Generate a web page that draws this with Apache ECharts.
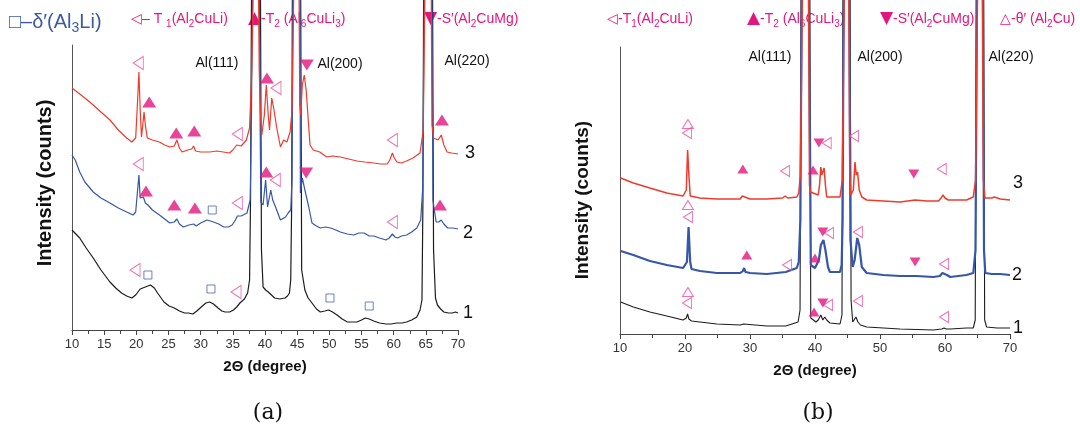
<!DOCTYPE html>
<html><head><meta charset="utf-8">
<script src="https://cdn.jsdelivr.net/npm/echarts@6/dist/echarts.min.js"></script>
<style>html,body{margin:0;padding:0;background:#fff}#c{width:1080px;height:440px}</style>
</head><body><div id="c"></div>
<script>
// ---------- DATA (2θ in degree, intensity in arbitrary counts) ----------
// Panel (a)
const aCurve3 = [[10.0,242],[11.0,237],[12.0,232],[13.3,225],[14.5,218],[15.9,210],[17.2,200],[18.5,192],[19.3,188],[19.9,192],[20.2,230],[20.4,258],[20.6,220],[20.8,193],[21.0,205],[21.2,218],[21.4,205],[21.7,192],[22.5,190],[23.6,188],[24.4,185],[25.2,183],[25.9,184],[26.3,190],[26.7,182],[27.1,178],[28.0,180],[28.6,181],[28.9,184],[29.2,179],[30.0,178],[31.4,178],[32.5,179],[33.5,178],[34.5,177],[35.0,180],[35.6,185],[36.3,184],[37.1,190],[37.6,202],[37.95,260],[38.15,330],[38.6,1500],[39.0,330],[39.1,260],[39.3,215],[39.5,195],[39.9,215],[40.2,245],[40.5,215],[40.7,200],[41.05,232],[41.4,220],[41.8,203],[42.4,183],[42.9,190],[43.4,188],[43.9,198],[44.2,220],[44.45,330],[44.9,1500],[45.3,330],[45.4,225],[45.55,215],[45.8,245],[46.1,255],[46.4,240],[46.8,203],[47.0,185],[47.5,180],[48.5,178],[49.6,173],[50.5,174],[51.7,173],[53.0,171],[54.3,169],[55.5,168],[56.9,167],[58.0,166],[59.0,166],[59.4,170],[59.8,177],[60.1,172],[60.5,168],[61.2,167],[62.0,169],[63.0,172],[64.1,177],[64.6,200],[64.85,330],[65.35,1500],[65.85,330],[65.95,205],[66.2,192],[66.5,190],[66.9,190],[67.4,195],[67.8,185],[68.3,178],[69.0,177],[70.0,176]];
const aCurve2 = [[10.0,175],[10.5,170],[11.2,158],[12.0,148],[13.3,138],[14.5,132],[15.9,127],[17.2,122],[18.5,118],[19.5,115],[19.9,118],[20.2,140],[20.4,155],[20.6,132],[20.9,132],[21.1,133],[21.4,127],[21.8,125],[22.5,120],[23.6,115],[24.4,111],[25.2,107],[25.9,108],[26.3,111],[26.7,106],[27.3,103],[28.2,105],[28.9,106],[29.3,104],[30.0,107],[31.0,110],[32.0,108],[32.8,106],[33.6,103],[34.3,103],[34.9,105],[35.4,110],[35.7,114],[36.3,114],[37.2,117],[37.7,130],[37.9,220],[38.05,330],[38.6,1500],[39.15,330],[39.25,200],[39.35,128],[39.7,125],[40.1,150],[40.4,123],[40.6,130],[40.9,140],[41.2,130],[41.7,122],[42.4,110],[43.2,113],[43.6,117],[44.0,120],[44.2,150],[44.35,330],[44.9,1500],[45.45,330],[45.5,137],[45.8,152],[46.2,140],[46.8,123],[47.3,107],[48.0,104],[48.6,102],[49.4,103],[50.2,102],[51.0,100],[51.7,98],[52.8,96],[53.8,95],[54.6,97],[55.4,97],[56.2,94],[56.9,94],[57.8,92],[58.8,90],[59.3,92],[59.8,96],[60.2,93],[60.6,92],[61.2,94],[62.0,95],[62.8,98],[63.6,102],[64.2,110],[64.5,140],[64.75,330],[65.35,1500],[65.95,330],[66.1,130],[66.6,108],[67.0,108],[67.4,110],[67.8,106],[68.4,102],[69.2,102],[70.0,101]];
const aCurve1 = [[10.0,100],[10.6,96],[11.2,92],[12.2,82],[13.3,72],[14.5,60],[15.9,48],[16.8,42],[17.7,37],[18.5,34],[19.3,32],[19.9,35],[20.6,41],[21.4,43],[22.2,45],[22.8,42],[23.3,37],[24.3,28],[25.1,24],[25.9,22],[26.7,19],[27.5,17],[28.1,17],[28.8,16],[29.4,19],[30.1,23],[30.8,27],[31.4,28],[32.0,26],[32.7,22],[33.3,19],[33.8,18],[34.5,18],[35.1,20],[35.6,23],[36.1,27],[36.8,31],[37.3,37],[37.6,50],[37.75,130],[37.9,330],[38.6,1500],[39.3,330],[39.45,80],[39.7,43],[40.1,40],[40.5,38],[41.0,35],[41.5,32],[42.3,31],[43.1,32],[43.5,34],[43.8,37],[44.0,50],[44.15,130],[44.25,330],[44.9,1500],[45.55,330],[45.7,60],[46.2,40],[46.7,32],[47.3,27],[48.0,21],[48.6,18],[49.3,19],[49.9,20],[50.5,18],[51.2,15],[52.0,11],[52.8,8],[53.6,8],[54.3,8],[55.0,10],[55.6,12],[56.2,11],[56.9,9],[57.8,7],[58.8,6],[59.6,6],[60.5,7],[61.3,7],[62.0,8],[62.8,10],[63.6,13],[64.1,20],[64.4,30],[64.55,130],[64.65,330],[65.35,1500],[66.05,330],[66.2,80],[66.5,32],[66.8,25],[67.3,21],[67.8,18],[68.5,17],[69.1,17],[69.6,18],[70.0,17]];
// phase markers, panel (a)
const aT1 = [[20.3,267],[35.7,196],[41.7,242],[59.8,190],[20.3,166],[35.7,127],[41.6,150],[59.8,108],[19.8,60],[35.5,38]];
const aT2 = [[22.0,228],[26.2,197],[29.0,199],[40.3,252],[67.5,210],[21.5,139],[25.9,125],[29.1,122],[40.2,158],[67.2,125]];
const aS = [[46.5,265],[46.4,157]];
const aDelta = [[31.8,120],[21.8,55],[31.6,41],[50.1,32],[56.2,24]];

// Panel (b)
const bCurve3 = [[10.1,156],[12.05,151],[14.6,146],[17.2,141],[19.7,138],[20.2,144],[20.4,184],[20.6,159],[20.8,138],[21.0,137],[22.3,136],[24.9,135],[27.0,135],[28.5,135],[28.8,138],[29.0,140],[29.2,137],[30.0,135],[32.6,135],[35.0,136],[35.4,138],[35.8,136],[37.2,137],[37.5,141],[37.75,159],[38.05,334],[38.5,1500],[39.0,334],[39.15,149],[39.3,142],[39.7,141],[40.0,139],[40.5,139],[40.7,149],[40.9,167],[41.05,159],[41.2,162],[41.4,166],[41.6,149],[41.8,137],[42.3,137],[43.85,137],[44.2,154],[44.5,334],[44.85,1500],[45.2,334],[45.35,160],[45.5,139],[45.9,144],[46.15,172],[46.35,159],[46.55,162],[46.8,144],[47.2,137],[47.95,134],[50.5,133],[53.1,132],[55.4,134],[55.6,133],[57.2,133],[59.0,133],[59.4,136],[59.7,139],[60.0,136],[60.5,134],[63.3,134],[64.35,137],[64.7,154],[65.0,334],[65.4,1500],[65.75,334],[65.9,154],[66.15,136],[67.2,136],[67.6,137],[68.5,135],[70.0,134]];
const bCurve2 = [[10.1,83],[12.05,79],[14.6,73],[17.2,69],[19.7,66],[20.3,72],[20.55,107],[20.8,72],[21.0,65],[22.3,63],[24.9,61],[28.5,61],[28.9,63],[29.1,66],[29.3,62],[30.0,61],[32.6,60],[35.5,62],[37.2,66],[37.5,72],[37.75,114],[37.95,334],[38.5,1500],[39.1,334],[39.35,69],[40.0,66],[40.3,68],[40.6,74],[40.9,89],[41.3,94],[41.6,84],[42.0,67],[42.3,62],[43.85,62],[44.1,69],[44.25,114],[44.4,334],[44.85,1500],[45.3,334],[45.45,94],[45.8,67],[46.1,74],[46.5,96],[46.8,89],[47.2,67],[47.95,61],[50.5,59],[53.1,58],[55.6,58],[58.2,57],[59.2,58],[59.6,61],[59.9,63],[60.3,59],[60.8,57],[63.3,59],[64.35,61],[64.7,84],[64.9,334],[65.4,1500],[65.85,334],[66.0,84],[66.2,61],[67.2,60],[68.5,60],[70.0,59]];
const bCurve1 = [[10.1,32],[12.05,27],[14.6,22],[17.2,18],[19.7,14],[20.2,16],[20.4,20],[20.6,15],[21.0,13],[22.3,12],[24.9,10],[28.5,9],[29.0,10],[29.3,9],[32.6,8],[35.5,8],[37.4,12],[37.7,24],[37.85,334],[38.5,1500],[39.2,334],[39.35,16],[40.15,12],[40.5,14],[40.9,19],[41.2,14],[41.5,17],[41.8,14],[42.3,11],[43.85,10],[44.15,19],[44.3,334],[44.85,1500],[45.4,334],[45.55,34],[45.8,12],[46.0,14],[46.3,17],[46.6,12],[47.0,9],[47.95,7],[53.1,5],[58.2,4],[59.5,5],[59.85,6],[60.2,5],[60.8,5],[63.3,6],[64.35,6],[64.65,14],[64.8,334],[65.4,1500],[65.95,334],[66.1,14],[66.4,7],[68.0,6],[70.0,6]];
const bT1 = [[20.3,201],[35.4,163],[41.8,191],[46.0,198],[59.5,165],[20.45,117],[35.7,69],[42.15,101],[46.6,102],[59.85,70],[20.3,31],[42.0,29],[46.6,33],[59.85,17]];
const bTheta = [[20.45,210],[20.45,129],[20.45,42]];
const bT2 = [[28.9,165],[39.7,164],[29.5,79],[40.0,76],[39.85,22]];
const bS = [[40.6,191],[55.2,160],[41.2,102],[55.4,72],[41.2,31]];

const xTicksA = {min:10, max:70, interval:5};
const xTicksB = {min:10, max:70, interval:10};
const peakNames = ['Al(111)','Al(200)','Al(220)'];
const curveNames = ['1','2','3'];

// ---------- STYLE ----------
const RED='#ee3b2c', BLUE='#3656a9', BLACK='#1c1c1c', PINK='#e4157d', PINK_O='#ef4f9c', SQ='#4a63b0', LBLUE='#3a5aa8';
const FONT='"Liberation Sans", Arial, sans-serif';

const chart = echarts.init(document.getElementById('c'), null, {renderer:'canvas'});

function line(data, g, color, w, z){
  return {type:'line', xAxisIndex:g, yAxisIndex:g, data, showSymbol:false, symbol:'none',
    lineStyle:{color, width:w}, silent:true, clip:true, z, animation:false};
}
function marks(data, g, symbol, size, rot, fill, stroke){
  return {type:'scatter', xAxisIndex:g, yAxisIndex:g, data, symbol, symbolSize:size, symbolRotate:rot,
    itemStyle:{color:fill, borderColor:stroke, borderWidth: stroke?1:0}, silent:true, clip:false, z:10, animation:false};
}
function xAxis(g, t){
  return {type:'value', gridIndex:g, min:t.min, max:t.max, interval:t.interval,
    axisLine:{lineStyle:{color:'#444', width:1}}, axisTick:{length:5, lineStyle:{color:'#444'}},
    minorTick:{show:true, splitNumber:2, length:4, lineStyle:{color:'#444'}},
    splitLine:{show:false}, minorSplitLine:{show:false},
    axisLabel:{fontSize:13, color:'#333', fontFamily:FONT, margin:8},
    name:'2Θ (degree)', nameLocation:'middle', nameGap:29,
    nameTextStyle:{fontSize:15, fontWeight:'bold', color:'#111', fontFamily:FONT}};
}
function hiddenY(g, max){ return {type:'value', gridIndex:g, min:0, max, show:false}; }
function frameX(g){ return {type:'value', gridIndex:g, min:0, max:1, show:false}; }
function frameY(g){ return {type:'value', gridIndex:g, min:0, max:1, axisLine:{show:true, lineStyle:{color:'#555'}},
  axisTick:{show:false}, axisLabel:{show:false}, splitLine:{show:false}}; }

const pinkRich = {
  n:{fontSize:14, fontFamily:FONT, fill:PINK, color:PINK, lineHeight:20, verticalAlign:'middle'},
  g:{fontSize:17, fontFamily:'"DejaVu Sans", sans-serif', fill:PINK, color:PINK, lineHeight:20, verticalAlign:'middle'},
  s:{fontSize:10, fontFamily:FONT, fill:PINK, color:PINK, lineHeight:20, verticalAlign:'bottom'}
};
const blueRich = {
  n:{fontSize:20, fontFamily:FONT, fill:LBLUE, color:LBLUE, lineHeight:26, verticalAlign:'middle'},
  s:{fontSize:14, fontFamily:FONT, fill:LBLUE, color:LBLUE, lineHeight:26, verticalAlign:'bottom'}
};
function rtext(x, y, text, rich, col){
  return {type:'text', x, y, z:1, style:{text, rich, fill:col, textAlign:'left', textVerticalAlign:'middle'}};
}
function ptext(x, y, text, size, align, extra){
  return Object.assign({type:'text', x, y, z:20, style:{text, fontSize:size, fontFamily:FONT, fill:'#111',
    textAlign:align||'center', textVerticalAlign:'middle'}}, extra||{});
}

const option = {
  animation:false,
  backgroundColor:'#fff',
  grid:[
    {left:72, top:0, width:386, height:330},
    {left:620, top:0, width:390, height:334},
    {left:72, top:45, width:386, height:285},
    {left:620, top:47, width:390, height:287}
  ],
  xAxis:[xAxis(0,xTicksA), xAxis(1,xTicksB), frameX(2), frameX(3)],
  yAxis:[hiddenY(0,330), hiddenY(1,334), frameY(2), frameY(3)],
  series:[
    line(aCurve1,0,BLACK,1.2,2), line(aCurve2,0,BLUE,1.2,3), line(aCurve3,0,RED,1.2,4),
    line(bCurve1,1,BLACK,1.1,2), line(bCurve2,1,BLUE,2.2,3), line(bCurve3,1,RED,1.5,4),
    marks(aT1,0,'triangle',[13,10],90,'rgba(255,255,255,0)',PINK_O),
    marks(aT2,0,'triangle',[14,11],0,PINK,null),
    marks(aS,0,'triangle',[14,11],180,PINK,null),
    marks(aDelta,0,'rect',[8,8],0,'rgba(255,255,255,0)',SQ),
    marks(bT1,1,'triangle',[11,9],90,'rgba(255,255,255,0)',PINK_O),
    marks(bTheta,1,'triangle',[11,9],0,'rgba(255,255,255,0)',PINK_O),
    marks(bT2,1,'triangle',[11,9],0,PINK,null),
    marks(bS,1,'triangle',[11,9],180,PINK,null)
  ],
  graphic:[
    // legends panel (a)
    rtext(9,22,'{n|□–δ′(Al}{s|3}{n|Li)}',blueRich,LBLUE),
    rtext(131,19,'{n|◁– T }{s|1}{n|(Al}{s|2}{n|CuLi)}',pinkRich,PINK),
    rtext(248,19,'{g|▲}{n|-T}{s|2}{n| (Al}{s|6}{n|CuLi}{s|3}{n|)}',pinkRich,PINK),
    rtext(424,19,'{g|▼}{n|-S′(Al}{s|2}{n|CuMg)}',pinkRich,PINK),
    // legends panel (b)
    rtext(607,19,'{n|◁-T}{s|1}{n|(Al}{s|2}{n|CuLi)}',pinkRich,PINK),
    rtext(747,19,'{g|▲}{n|-T}{s|2}{n| (Al}{s|6}{n|CuLi}{s|3}{n|)}',pinkRich,PINK),
    rtext(880,19,'{g|▼}{n|-S′(Al}{s|2}{n|CuMg)}',pinkRich,PINK),
    rtext(1000,19,'{n|△-θ′ (Al}{s|2}{n|Cu)}',pinkRich,PINK),
    // peak labels
    ptext(217,63,peakNames[0],14), ptext(340,64,peakNames[1],14), ptext(467,61,peakNames[2],14),
    ptext(770,57,peakNames[0],14), ptext(880,57,peakNames[1],14), ptext(1011,57,peakNames[2],14),
    // curve numbers
    ptext(470,153,curveNames[2],18), ptext(468,233,curveNames[1],18), ptext(468,313,curveNames[0],18),
    ptext(1018,183,curveNames[2],18), ptext(1017,275,curveNames[1],18), ptext(1018,328,curveNames[0],18),
    // y titles
    {type:'text', x:45, y:183, rotation:Math.PI/2, z:20, style:{text:'Intensity (counts)', fontSize:20, fontWeight:'bold', fontFamily:FONT, fill:'#111', textAlign:'center', textVerticalAlign:'middle'}},
    {type:'text', x:583, y:200, rotation:Math.PI/2, z:20, style:{text:'Intensity (counts)', fontSize:19, fontWeight:'bold', fontFamily:FONT, fill:'#111', textAlign:'center', textVerticalAlign:'middle'}},
    // sub captions
    {type:'text', x:268, y:413, z:20, style:{text:'(a)', fontSize:22, fontFamily:'"DejaVu Serif", "Liberation Serif", serif', fill:'#111', textAlign:'center', textVerticalAlign:'middle'}},
    {type:'text', x:818, y:413, z:20, style:{text:'(b)', fontSize:22, fontFamily:'"DejaVu Serif", "Liberation Serif", serif', fill:'#111', textAlign:'center', textVerticalAlign:'middle'}}
  ]
};
chart.setOption(option);
</script>
</body></html>
